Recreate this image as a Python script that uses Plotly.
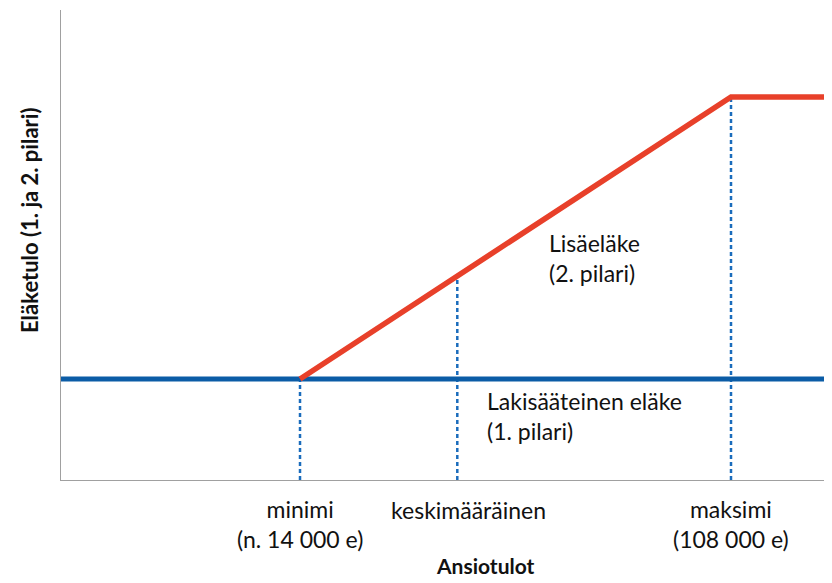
import plotly.graph_objects as go

# Data (arbitrary units)
x_range = [0, 10]
y_range = [0, 10]
base_x = [0, 10]
base_y = [2.15, 2.15]
supp_x = [3.1, 8.69, 10]
supp_y = [2.15, 8.15, 8.15]
marker_x = [3.1, 5.14, 8.69]
marker_top = [2.15, 4.34, 8.15]
tick_labels = ["minimi<br>(n. 14 000 e)", "keskimääräinen", "maksimi<br>(108 000 e)"]
tick_label_x = [3.1, 5.29, 8.69]
tick_label_y = [-0.0936, -0.0638, -0.0936]

BLUE = "#0b5ca6"
RED = "#e8402a"
DOT = "#1a6cbc"
FONT = "Lato"
TXT = "#111111"

fig = go.Figure()

for xv, yt in zip(marker_x, marker_top):
    fig.add_trace(go.Scatter(x=[xv, xv], y=[0, yt], mode="lines",
                             line=dict(color=DOT, width=2.5, dash="4px,3px"),
                             hoverinfo="skip", showlegend=False))

fig.add_trace(go.Scatter(x=base_x, y=base_y, mode="lines",
                         line=dict(color=BLUE, width=5), showlegend=False))
fig.add_trace(go.Scatter(x=supp_x, y=supp_y, mode="lines",
                         line=dict(color=RED, width=5.5), showlegend=False))

for xv, yv, t in zip(tick_label_x, tick_label_y, tick_labels):
    fig.add_annotation(x=xv, xref="x", y=yv, yref="paper", text=t,
                       showarrow=False, yanchor="middle", align="center",
                       font=dict(family=FONT, size=23, color=TXT))

fig.add_annotation(x=5.5, xref="x", y=-0.182, yref="paper", text="<b>Ansiotulot</b>",
                   showarrow=False, yanchor="middle",
                   font=dict(family=FONT, size=21, color=TXT))
fig.add_annotation(x=-0.0415, xref="paper", y=0.551, yref="paper",
                   text="<b>Eläketulo (1. ja 2. pilari)</b>", textangle=-90,
                   showarrow=False, xanchor="center", yanchor="middle",
                   font=dict(family=FONT, size=22, color=TXT))

fig.add_annotation(x=6.30, xref="x", y=4.72, yref="y",
                   text="Lisäeläke<br>(2. pilari)", showarrow=False,
                   xanchor="left", yanchor="middle", align="left",
                   font=dict(family=FONT, size=23, color=TXT))
fig.add_annotation(x=5.5, xref="x", y=1.36, yref="y",
                   text="Lakisääteinen eläke<br>(1. pilari)", showarrow=False,
                   xanchor="left", yanchor="middle", align="left",
                   font=dict(family=FONT, size=23, color=TXT))

fig.update_xaxes(range=x_range, showgrid=False, zeroline=False, showticklabels=False,
                 showline=True, linecolor="#a0a0a0", linewidth=1, ticks="")
fig.update_yaxes(range=y_range, showgrid=False, zeroline=False, showticklabels=False,
                 showline=True, linecolor="#a0a0a0", linewidth=1, ticks="")

# page body has an 8px margin: shrink figure so plot area lands where the reference has it
fig.update_layout(width=824, height=575, margin=dict(l=53, r=0, t=2, b=103),
                  plot_bgcolor="white", paper_bgcolor="white",
                  font=dict(family=FONT))

fig.write_html("out.html")
